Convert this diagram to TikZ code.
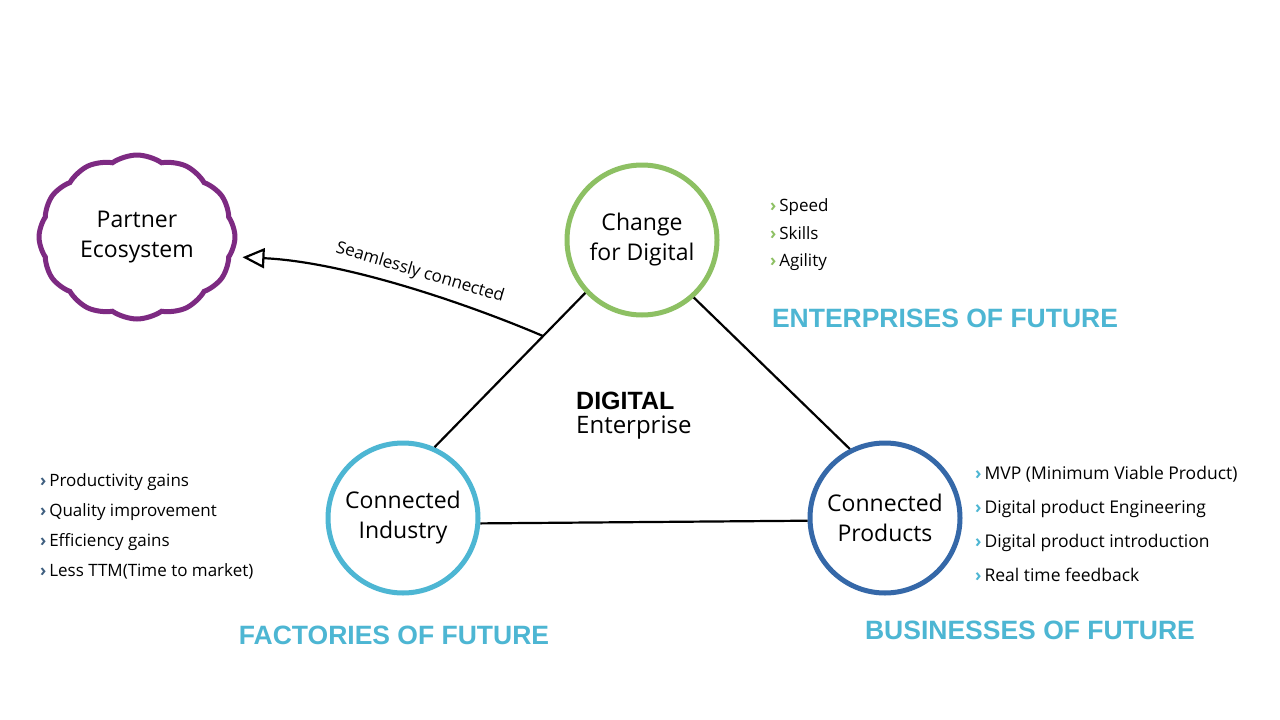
\documentclass[tikz,border=0pt]{standalone}
\usepackage{fontspec}
\setmainfont{Open Sans}
\newfontfamily\headfont{Liberation Sans}
\usetikzlibrary{shapes.symbols,arrows.meta,calc}

\definecolor{futureblue}{HTML}{4DB6D3}
\definecolor{changegreen}{HTML}{8DC063}
\definecolor{ecopurple}{HTML}{7D2A82}
\definecolor{productblue}{HTML}{3568A8}
\definecolor{slateblue}{HTML}{3F5F80}
\newcommand{\pointmark}[1]{\textcolor{#1}{\bfseries ›}\,}

\begin{document}
\begin{tikzpicture}[%
        x=1pt, y=-1pt,
        idea/.style={ circle, minimum size=150pt, line width=5pt, align=center, inner sep=0pt, font=\fontsize{23}{30}\selectfont },%
        ecocloud/.style={ cloud, cloud puffs=12, cloud puff arc=70, aspect=1.15, minimum width=196pt, minimum height=164pt, line width=5pt, draw=ecopurple, align=center, inner sep=0pt, font=\fontsize{23}{30}\selectfont },%
        link/.style={ line width=2.2pt, black },%
        heading/.style={ font=\headfont\bfseries\fontsize{26.5}{30}\selectfont, text=futureblue, inner sep=0pt },%
        points/.style={ align=left, anchor=west, inner sep=0pt, font=\fontsize{17}{30}\selectfont }%
      ]
      \useasboundingbox [fill=white] (0,0) rectangle (1280,720);
      % the four ideas
      \node (partner)  at (137,237) [ecocloud]{Partner\\Ecosystem};
      \node (change)   at (642,240) [idea, draw=changegreen]{Change\\for Digital};
      \node (industry) at (403,518) [idea, draw=futureblue]{Connected\\Industry};
      \node (products) at (885,518) [idea, draw=productblue]{Connected\\Products};
      % triangle
      \draw [link] (change.223) -- (industry.66);
      \draw [link] (change.312) -- (products.117);
      \draw [link] (industry.356) -- (products.182);
      \coordinate (seam) at ($(change.223)!0.28!(industry.66)$);
      \draw [link, -{Triangle[open, length=22pt, width=20pt]}, shorten >=5pt]
        (seam) .. controls +(-70,-30) and +(110,5) .. node[pos=0.47, sloped, above=5pt, font=\fontsize{17}{20}\selectfont]{Seamlessly connected} ([yshift=-20pt]partner.east);
      % centre
      \node (digital) at (576,401) [anchor=west, inner sep=0pt, font=\headfont\bfseries\fontsize{25}{28}\selectfont]{DIGITAL};
      \node (enterprise) at (576,428) [anchor=west, inner sep=0pt, font=\fontsize{24}{28}\selectfont]{Enterprise};
      % lists
      \node (speed) at (770,235) [points, font=\fontsize{17}{27.5}\selectfont]{\pointmark{changegreen}Speed\\\pointmark{changegreen}Skills\\\pointmark{changegreen}Agility};
      \node (gains) at (40,526) [points]{\pointmark{slateblue}Productivity gains\\\pointmark{slateblue}Quality improvement\\\pointmark{slateblue}Efficiency gains\\\pointmark{slateblue}Less TTM(Time to market)};
      \node (mvp) at (975,524) [points, font=\fontsize{17.5}{34}\selectfont]{\pointmark{futureblue}MVP (Minimum Viable Product)\\\pointmark{futureblue}Digital product Engineering\\\pointmark{futureblue}Digital product introduction\\\pointmark{futureblue}Real time feedback};
      % headings
      \node (enterprises) at (945,318) [heading]{ENTERPRISES OF FUTURE};
      \node (factories)   at (394,635) [heading]{FACTORIES OF FUTURE};
      \node (businesses)  at (1030,630) [heading]{BUSINESSES OF FUTURE};
    \end{tikzpicture}
\end{document}
